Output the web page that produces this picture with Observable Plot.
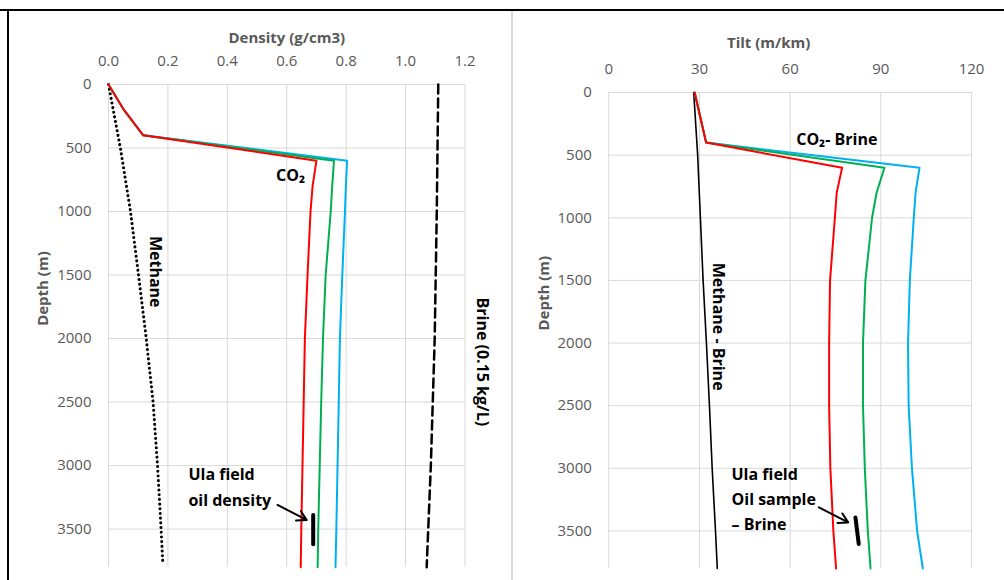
<!DOCTYPE html>
<html>
<head>
<meta charset="utf-8">
<script src="https://cdn.jsdelivr.net/npm/d3@7"></script>
<script src="https://cdn.jsdelivr.net/npm/@observablehq/plot@0.6"></script>
<style>
  html, body { margin: 0; padding: 0; background: #fff; }
  #wrap { position: relative; width: 1004px; height: 580px; overflow: hidden; background: #fff; }
  #wrap svg { position: absolute; top: 0; }
  .bline { position: absolute; background: #000; }
</style>
</head>
<body>
<div id="wrap">
  <div class="bline" style="left:0;top:9px;width:1004px;height:2px;"></div>
  <div class="bline" style="left:7px;top:9px;width:2px;height:571px;"></div>
  <div style="position:absolute;left:511px;top:11px;width:2px;height:569px;background:#d9d9d9;"></div>
</div>
<script>
// ---------- Data: left panel (density vs depth) ----------
const depthCO2 = [0, 200, 400, 600, 800, 1000, 1500, 2000, 2500, 3000, 3500, 3800];
const densRed   = [0, 0.052, 0.117, 0.700, 0.687, 0.680, 0.670, 0.661, 0.657, 0.653, 0.649, 0.647];
const densGreen = [0, 0.052, 0.117, 0.759, 0.753, 0.748, 0.731, 0.722, 0.716, 0.711, 0.706, 0.704];
const densBlue  = [0, 0.052, 0.117, 0.803, 0.799, 0.796, 0.787, 0.779, 0.775, 0.771, 0.767, 0.764];
const depthMethane = [0, 200, 500, 1000, 1500, 2000, 2500, 3000, 3500, 3780];
const densMethane  = [0, 0.016, 0.040, 0.074, 0.101, 0.127, 0.150, 0.165, 0.177, 0.183];
const depthBrine = [0, 1000, 2000, 3000, 3800];
const densBrine  = [1.110, 1.105, 1.098, 1.085, 1.071];
const ulaDensDepth = [3390, 3620];
const ulaDens = [0.689, 0.689];
const densTicks = [0, 0.2, 0.4, 0.6, 0.8, 1.0, 1.2];
const depthTicks = [0, 500, 1000, 1500, 2000, 2500, 3000, 3500];

// ---------- Data: right panel (tilt vs depth) ----------
const depthTilt = [0, 200, 400, 600, 800, 1000, 1500, 2000, 2500, 3000, 3500, 3800];
const tiltRed   = [28.4, 30.3, 32.2, 77.2, 75.4, 74.8, 73.2, 72.9, 72.9, 73.3, 74.3, 75.2];
const tiltGreen = [28.4, 30.3, 32.2, 91.2, 88.6, 87.1, 84.9, 84.1, 84.1, 84.7, 85.7, 86.6];
const tiltBlue  = [28.4, 30.3, 32.2, 102.8, 101.5, 100.9, 99.6, 99.0, 99.2, 100.3, 102.0, 103.9];
const depthMethTilt = [0, 500, 1000, 1500, 2000, 2500, 3000, 3500, 3800];
const tiltMethane   = [28.1, 29.4, 30.3, 31.2, 32.3, 33.3, 34.2, 35.3, 35.9];
const ulaTiltDepth = [3392, 3605];
const ulaTilt = [81.6, 82.7];
const tiltTicks = [0, 30, 60, 90, 120];

const FONT = "Open Sans";
const rows = (xs, ys) => xs.map((x, i) => ({x, y: ys[i]}));
const wrap = document.getElementById("wrap");

const axisStyle = {tickSize: 0, fill: "#595959", fontSize: 15};
const labelText = (opts) => Plot.text([0], {fontFamily: FONT, fontWeight: "bold", fill: "black", fontSize: 16, ...opts});

// ---------- Left plot ----------
const left = Plot.plot({
  width: 500, height: 580,
  marginLeft: 108, marginRight: 35.5, marginTop: 84, marginBottom: 13.3,
  style: {fontFamily: FONT, fontSize: "15px", color: "#595959", background: "transparent"},
  x: {domain: [0, 1.2]},
  y: {domain: [0, 3800], reverse: true},
  marks: [
    Plot.gridX(densTicks, {stroke: "#d9d9d9", strokeOpacity: 1}),
    Plot.gridY(depthTicks, {stroke: "#d9d9d9", strokeOpacity: 1}),
    Plot.axisX({anchor: "top", ticks: densTicks, tickFormat: d3.format(".1f"), label: null, tickPadding: 19, ...axisStyle}),
    Plot.axisY({anchor: "left", ticks: depthTicks, tickFormat: d3.format("d"), label: null, tickPadding: 17, ...axisStyle}),
    Plot.text([0], {frameAnchor: "top", dy: -46, text: () => "Density (g/cm3)", fontWeight: "bold", fill: "#595959", fontSize: 15, lineAnchor: "middle"}),
    Plot.text([0], {frameAnchor: "left", dx: -65, rotate: -90, text: () => "Depth (m)", fontWeight: "bold", fill: "#595959", fontSize: 15, lineAnchor: "middle"}),
    Plot.line(rows(densMethane, depthMethane), {x: "x", y: "y", stroke: "black", strokeWidth: 3, strokeDasharray: "0.1,4.6", strokeLinecap: "round"}),
    Plot.line(rows(densBrine, depthBrine), {x: "x", y: "y", stroke: "black", strokeWidth: 2.5, strokeDasharray: "9,5"}),
    Plot.line(rows(densBlue, depthCO2), {x: "x", y: "y", stroke: "#00b0f0", strokeWidth: 2}),
    Plot.line(rows(densGreen, depthCO2), {x: "x", y: "y", stroke: "#00b050", strokeWidth: 2}),
    Plot.line(rows(densRed, depthCO2), {x: "x", y: "y", stroke: "#ff0000", strokeWidth: 2}),
    Plot.line(rows(ulaDens, ulaDensDepth), {x: "x", y: "y", stroke: "black", strokeWidth: 4}),
    Plot.arrow([0], {x1: 0.569, y1: 3310, x2: 0.667, y2: 3428, stroke: "black", strokeWidth: 2, headLength: 8}),
    labelText({x: 0.613, y: 717, text: () => "CO₂"}),
    labelText({x: 0.158, y: 1474, rotate: 90, text: () => "Methane"}),
    labelText({x: 1.258, y: 2183, rotate: 90, text: () => "Brine (0.15 kg/L)"}),
    labelText({x: 0.269, y: 3152, textAnchor: "start", lineHeight: 1.6, text: () => "Ula field\noil density"})
  ]
});
left.style.left = "0px";
wrap.appendChild(left);

// ---------- Right plot ----------
const right = Plot.plot({
  width: 492, height: 580,
  marginLeft: 96.3, marginRight: 33, marginTop: 92, marginBottom: 12,
  style: {fontFamily: FONT, fontSize: "15px", color: "#595959", background: "transparent"},
  x: {domain: [0, 120]},
  y: {domain: [0, 3800], reverse: true},
  marks: [
    Plot.gridX(tiltTicks, {stroke: "#d9d9d9", strokeOpacity: 1}),
    Plot.gridY(depthTicks, {stroke: "#d9d9d9", strokeOpacity: 1}),
    Plot.axisX({anchor: "top", ticks: tiltTicks, tickFormat: d3.format("d"), label: null, tickPadding: 19, ...axisStyle}),
    Plot.axisY({anchor: "left", ticks: depthTicks, tickFormat: d3.format("d"), label: null, tickPadding: 17, ...axisStyle}),
    Plot.text([0], {frameAnchor: "top", dx: -21.5, dy: -49, text: () => "Tilt (m/km)", fontWeight: "bold", fill: "#595959", fontSize: 15, lineAnchor: "middle"}),
    Plot.text([0], {frameAnchor: "left", dx: -65, rotate: -90, text: () => "Depth (m)", fontWeight: "bold", fill: "#595959", fontSize: 15, lineAnchor: "middle"}),
    Plot.line(rows(tiltMethane, depthMethTilt), {x: "x", y: "y", stroke: "black", strokeWidth: 1.6}),
    Plot.line(rows(tiltBlue, depthTilt), {x: "x", y: "y", stroke: "#00b0f0", strokeWidth: 2}),
    Plot.line(rows(tiltGreen, depthTilt), {x: "x", y: "y", stroke: "#00b050", strokeWidth: 2}),
    Plot.line(rows(tiltRed, depthTilt), {x: "x", y: "y", stroke: "#ff0000", strokeWidth: 2}),
    Plot.line(rows(ulaTilt, ulaTiltDepth), {x: "x", y: "y", stroke: "black", strokeWidth: 4}),
    Plot.arrow([0], {x1: 69.5, y1: 3312, x2: 79.2, y2: 3432, stroke: "black", strokeWidth: 2, headLength: 8}),
    labelText({x: 62.0, y: 378, textAnchor: "start", text: () => "CO₂- Brine"}),
    labelText({x: 36.3, y: 1869, rotate: 90, text: () => "Methane - Brine"}),
    labelText({x: 40.6, y: 3232, textAnchor: "start", lineHeight: 1.55, text: () => "Ula field\nOil sample\n– Brine"})
  ]
});
right.style.left = "512px";
wrap.appendChild(right);
</script>
</body>
</html>
